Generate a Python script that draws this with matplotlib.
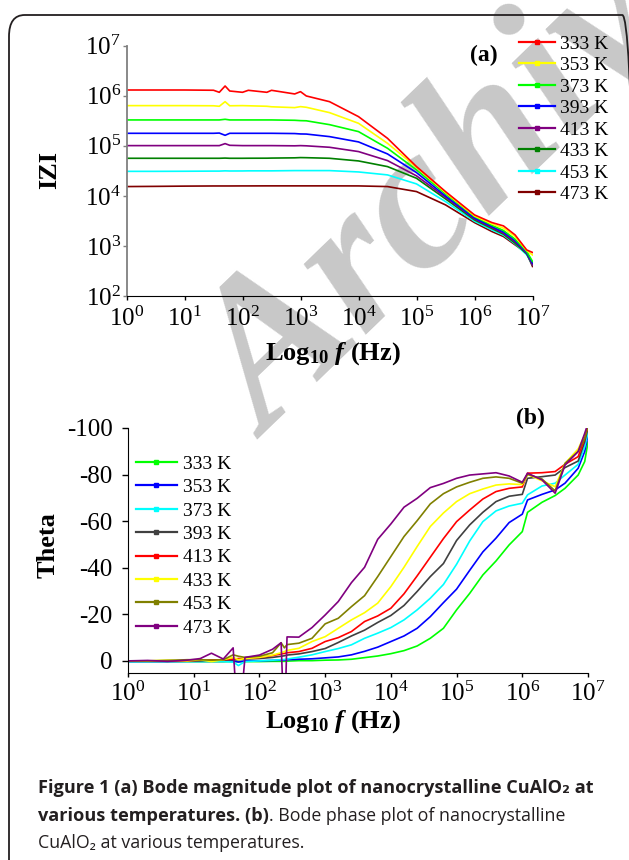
import matplotlib
matplotlib.use('Agg')
import matplotlib.pyplot as plt
import numpy as np
from matplotlib.patches import FancyBboxPatch
from matplotlib.lines import Line2D
from matplotlib.ticker import LogLocator, NullLocator

plt.rcParams['font.family'] = 'serif'
plt.rcParams['font.serif'] = ['Liberation Serif']
plt.rcParams['mathtext.fontset'] = 'custom'
plt.rcParams['mathtext.rm'] = 'Liberation Serif'
plt.rcParams['mathtext.it'] = 'Liberation Serif:italic:bold'
plt.rcParams['mathtext.bf'] = 'Liberation Serif:bold'
plt.rcParams['axes.unicode_minus'] = False

# Data (a): log10 f and log10 |Z| -------------------------
temps = ['333 K', '353 K', '373 K', '393 K', '413 K', '433 K', '453 K', '473 K']

logf_a = [0, 0.5, 1.0, 1.5, 1.6, 1.7, 1.78, 2.0, 2.1, 2.42, 2.5, 2.9, 3.0, 3.1,
          3.5, 4.0, 4.5, 5.0, 5.5, 6.0, 6.3, 6.5, 6.7, 6.9, 7.0]

logz_333 = [6.115, 6.115, 6.115, 6.11, 6.069, 6.195, 6.095, 6.069, 6.109, 6.069, 6.109, 6.036, 6.082,
            5.996, 5.882, 5.583, 5.15, 4.585, 4.086, 3.62, 3.467, 3.4, 3.22, 2.92, 2.87]
logz_353 = [5.803, 5.803, 5.803, 5.80, 5.79, 5.882, 5.80, 5.803, 5.80, 5.79, 5.78, 5.763, 5.783,
            5.77, 5.663, 5.45, 5.05, 4.572, 4.066, 3.6, 3.44, 3.355, 3.188, 2.908, 2.82]
logz_373 = [5.517, 5.517, 5.517, 5.517, 5.517, 5.53, 5.517, 5.517, 5.517, 5.517, 5.517, 5.51, 5.503,
            5.50, 5.423, 5.284, 4.951, 4.519, 4.04, 3.587, 3.414, 3.308, 3.135, 2.89, 2.69]
logz_393 = [5.25, 5.25, 5.25, 5.25, 5.255, 5.21, 5.25, 5.25, 5.25, 5.25, 5.25, 5.245, 5.237,
            5.235, 5.184, 5.078, 4.838, 4.465, 4.0, 3.56, 3.388, 3.28, 3.108, 2.87, 2.66]
logz_413 = [5.004, 5.004, 5.004, 5.004, 5.004, 5.044, 5.01, 5.004, 5.004, 5.004, 5.004, 5.0, 5.004,
            5.0, 4.971, 4.885, 4.705, 4.4, 3.973, 3.54, 3.368, 3.254, 3.082, 2.855, 2.62]
logz_433 = [4.751, 4.751, 4.751, 4.751, 4.751, 4.755, 4.751, 4.751, 4.752, 4.753, 4.755, 4.76, 4.765,
            4.763, 4.751, 4.698, 4.585, 4.352, 3.94, 3.52, 3.348, 3.235, 3.055, 2.842, 2.62]
logz_453 = [4.49, 4.49, 4.492, 4.495, 4.495, 4.5, 4.497, 4.498, 4.5, 4.5, 4.5, 4.505, 4.505,
            4.505, 4.505, 4.478, 4.419, 4.239, 3.886, 3.494, 3.321, 3.215, 3.042, 2.822, 2.62]
logz_473 = [4.186, 4.19, 4.195, 4.198, 4.198, 4.198, 4.198, 4.199, 4.199, 4.2, 4.2, 4.2, 4.2,
            4.2, 4.2, 4.199, 4.186, 4.086, 3.82, 3.467, 3.288, 3.188, 3.022, 2.855, 2.59]

# Data (b): log10 f and theta (deg) ------------------------
logf_b = [0, 0.3, 0.6, 0.9, 1.1, 1.27, 1.45, 1.6, 1.68, 1.78, 2.0, 2.2, 2.33, 2.38, 2.42,
          2.6, 2.8, 3.0, 3.2, 3.4, 3.6, 3.8, 4.0, 4.2, 4.4, 4.6, 4.8, 5.0, 5.2, 5.4, 5.6,
          5.8, 6.0, 6.08, 6.3, 6.5, 6.65, 6.85, 6.95, 7.0]

th_333 = [0.3, 0.3, 0.3, 0.3, 0.3, 0.3, 0.3, 0.3, 0.3, 0.3, 0.3, 0.2, 0.2, 0.2, 0.1,
          -0.1, -0.1, -0.3, -0.4, -0.7, -1.4, -2.1, -3.1, -4.4, -6.4, -9.7, -14, -21.9, -29, -36.9, -42.9,
          -49.8, -55.5, -63.8, -68.1, -71, -74.1, -79.8, -85.6, -94]
th_353 = [0.3, 0.3, 0.3, 0.2, 0.2, 0.2, 0.2, 0, 0.5, 0, 0, -0.2, -0.3, -0.3, -0.5,
          -0.7, -0.9, -1.3, -1.7, -2.6, -4.1, -5.9, -8.3, -10.7, -14, -19, -25, -30.8, -38.9, -46.8, -52.7,
          -59.4, -63, -69.1, -71.5, -73.4, -76.3, -82.7, -89.9, -97]
th_373 = [0.3, 0.3, 0.2, 0.3, 0.3, 0.2, 0.3, 0.5, 2.0, 0.3, 0, -0.3, -0.5, -0.6, -0.8,
          -1.6, -2.6, -4, -5.3, -6.9, -9.7, -11.9, -14.3, -17.6, -21.9, -26.9, -32.8, -41.5, -51.5, -59.8, -64.4,
          -66.5, -67.7, -71.3, -75.1, -76.3, -79.8, -84.4, -92, -98]
th_393 = [0, 0, 0, 0, 0, -0.3, -0.3, -0.5, -0.5, -0.8, -1, -1.5, -2, -2.2, -2.5,
          -3, -4, -5.3, -7.9, -10.7, -13.2, -16.5, -19.5, -23.8, -29.8, -36.2, -41.8, -51.7, -58.4, -63.8, -68.4,
          -70.7, -71.5, -78.4, -79.1, -79.8, -83, -85.8, -94.1, -100]
th_413 = [0, 0, 0, 0, -0.3, -0.3, -0.5, -0.8, -1, -1, -1.5, -2.3, -3, -3.2, -3.5,
          -4, -5.4, -8.3, -10, -12.6, -16.9, -19.3, -22.6, -28.8, -36.5, -44.5, -52.5, -59.8, -64.8, -69.5, -72.7,
          -74.1, -74.7, -80.6, -80.8, -81.3, -84.4, -87.7, -95.6, -101]
th_433 = [0, 0, -0.3, 0, -0.5, 0.3, -0.5, -1.5, -0.5, -1, -1.5, -2.5, -3.5, -4.0, -4.5,
          -5.4, -8.3, -10.4, -14, -17.6, -20.7, -24.8, -31.9, -40.2, -49.1, -57.7, -63.5, -68.4, -71.8, -73.8, -75.5,
          -76, -75.7, -80.1, -77.3, -74.8, -84.8, -91, -97, -101]
th_453 = [0, 0, -0.2, -0.5, -0.5, -0.3, -0.5, -2.6, -2.0, -1.5, -2.0, -3.5, -7.8, -5.6, -7.0,
          -7.6, -9.7, -15.9, -18.3, -23.3, -28, -36.2, -44.8, -53.4, -60.2, -67.4, -71.8, -74.7, -76.7, -78.4, -79,
          -78.4, -76.3, -80.1, -78.1, -73, -84.8, -89.9, -95.6, -101]
th_473 = [0, -0.2, 0.2, -0.3, -1.0, -3.3, -0.8, -5.6, 30, -1.5, -2.5, -5.0, -7.8, 30, -10.3,
          -10.2, -14.3, -19.7, -25.5, -33.6, -40.2, -52.2, -58.8, -66, -69.8, -74.4, -76.2, -78.4, -79.8, -80.3, -80.8,
          -79.4, -76.7, -80.6, -77.7, -72, -84.1, -89.9, -97.7, -102]

colors_a = ['#ff0000', '#ffff00', '#00ff00', '#0000ff', '#800080', '#008000', '#00ffff', '#800000']
colors_b = ['#00ff00', '#0000ff', '#00ffff', '#404040', '#ff0000', '#ffff00', '#808000', '#800080']

theta_ticks = [-100, -80, -60, -40, -20, 0]
theta_labels = ['-100', '-80', '-60', '-40', '-20', '0']

# Figure --------------------------------------------------
W, H = 629, 860
fig = plt.figure(figsize=(W / 100, H / 100), dpi=100)

# border box
box = FancyBboxPatch((9 / W, -0.05), 1.0, 1 - 15 / H + 0.05, boxstyle='round,pad=0,rounding_size=0.025',
                     transform=fig.transFigure, fill=False, edgecolor='#231f20', linewidth=1.3, clip_on=False)
fig.patches.append(box)

# watermark
fig.text(268 / W, 1 - 440 / H, 'Archive', fontsize=148, fontweight='bold', style='italic',
         color='#c8c8c8', rotation=44, rotation_mode='anchor', ha='left', va='baseline', zorder=-5)


def legend_handles(colors):
    return [Line2D([], [], color=c, lw=1.6, marker='s', ms=2.5) for c in colors]


# Plot (a) ------------------------------------------------
ax1 = fig.add_axes([126.5 / W, 1 - 296 / H, 406 / W, 250.3 / H])
ax1.patch.set_alpha(0)
zs = [logz_333, logz_353, logz_373, logz_393, logz_413, logz_433, logz_453, logz_473]
for i in reversed(range(len(temps))):
    ax1.plot(10 ** np.array(logf_a), 10 ** np.array(zs[i]), color=colors_a[i], lw=1.2)
ax1.set_xscale('log')
ax1.set_yscale('log')
ax1.set_xlim(1, 1e7)
ax1.set_ylim(1e2, 1e7)
ax1.xaxis.set_major_locator(LogLocator(base=10, numticks=10))
ax1.yaxis.set_major_locator(LogLocator(base=10, numticks=10))
ax1.xaxis.set_minor_locator(NullLocator())
ax1.yaxis.set_minor_locator(NullLocator())
ax1.spines['top'].set_visible(False)
ax1.spines['right'].set_visible(False)
ax1.spines['left'].set_color('#808080')
ax1.spines['left'].set_linewidth(1.3)
ax1.tick_params(axis='x', direction='out', length=3, width=1, labelsize=18, pad=5)
ax1.tick_params(axis='y', direction='out', length=3, width=1, color='#808080', labelsize=18, pad=1)
ax1.text(0.913, 0.963, '(a)', transform=ax1.transAxes, fontsize=17, fontweight='bold', ha='right', va='center')
fig.legend(legend_handles(colors_a), temps, loc='upper left', bbox_to_anchor=(519 / W, 1 - 35 / H),
           frameon=False, fontsize=14, borderpad=0, borderaxespad=0, labelspacing=0.2,
           handlelength=1.85, handletextpad=0.25)
fig.text(50 / W, 1 - 170 / H, 'IZI', fontsize=19, fontweight='bold', rotation=90, ha='center', va='center')
fig.text(333 / W, 1 - 354 / H, r'Log$_{\mathbf{10}}$ $f$ (Hz)', fontsize=19, fontweight='bold',
         ha='center', va='center')

# Plot (b) ------------------------------------------------
ax2 = fig.add_axes([128 / W, 1 - 673 / H, 460 / W, 245 / H])
ax2.patch.set_alpha(0)
ths = [th_333, th_353, th_373, th_393, th_413, th_433, th_453, th_473]
for i in range(len(temps)):
    ax2.plot(10 ** np.array(logf_b), ths[i], color=colors_b[i], lw=1.2)
ax2.set_xscale('log')
ax2.set_xlim(1, 1e7)
ax2.set_ylim(5.2, -100)
ax2.set_yticks(theta_ticks)
ax2.set_yticklabels(theta_labels)
ax2.xaxis.set_major_locator(LogLocator(base=10, numticks=10))
ax2.xaxis.set_minor_locator(NullLocator())
ax2.spines['top'].set_visible(False)
ax2.spines['right'].set_visible(False)
ax2.tick_params(axis='x', direction='out', length=3, width=1, labelsize=18, pad=3)
ax2.tick_params(axis='y', direction='out', length=4, width=1, labelsize=18, pad=7)
ax2.text(0.9065, 1.04, '(b)', transform=ax2.transAxes, fontsize=17, fontweight='bold', ha='right', va='center')
ax2.legend(legend_handles(colors_b), temps, loc='upper left', bbox_to_anchor=(136 / W, 1 - 455 / H),
           bbox_transform=fig.transFigure, frameon=False, fontsize=14, borderpad=0, borderaxespad=0,
           labelspacing=0.3, handlelength=2.1, handletextpad=0.3)
fig.text(48 / W, 1 - 545 / H, 'Theta', fontsize=19, fontweight='bold', rotation=90, ha='center', va='center')
fig.text(333 / W, 1 - 722 / H, r'Log$_{\mathbf{10}}$ $f$ (Hz)', fontsize=19, fontweight='bold',
         ha='center', va='center')

# Caption -------------------------------------------------
cap = dict(color='#231f20', family=['Open Sans', 'DejaVu Sans'], va='center', ha='left')
fig.text(38 / W, 1 - 788 / H, 'Figure 1 (a) Bode magnitude plot of nanocrystalline CuAlO\u2082 at',
         fontweight='bold', fontsize=13.1, **cap)
t2 = fig.text(38 / W, 1 - 816 / H, 'various temperatures. (b)', fontweight='bold', fontsize=13.1, **cap)
fig.canvas.draw()
bb = t2.get_window_extent()
fig.text(bb.x1 / W, 1 - 816 / H, '. Bode phase plot of nanocrystalline', fontsize=12.8, **cap)
fig.text(38 / W, 1 - 843 / H, 'CuAlO\u2082 at various temperatures.', fontsize=12.8, **cap)

fig.savefig('out.png', dpi=100)
